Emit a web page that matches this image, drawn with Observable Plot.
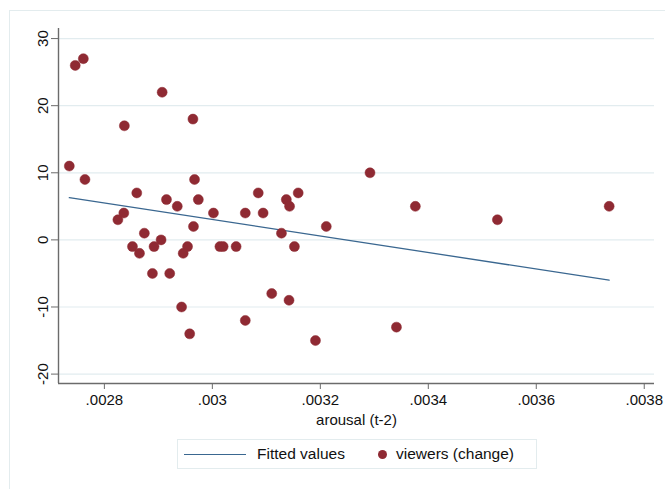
<!DOCTYPE html>
<html>
<head>
<meta charset="utf-8">
<script src="https://cdn.jsdelivr.net/npm/d3@7"></script>
<script src="https://cdn.jsdelivr.net/npm/@observablehq/plot@0.6"></script>
<style>
  body { margin: 0; background: #fff; font-family: "Liberation Sans", Arial, Helvetica, sans-serif; }
  #wrap { position: relative; width: 665px; height: 489px; overflow: hidden; }
  #frame { position: absolute; left: 9px; top: 10px; width: 700px; height: 500px; border: 1px solid #e3ecee; box-sizing: border-box; }
  #chart { position: absolute; left: 0; top: 0; }
  #legend { position: absolute; left: 177px; top: 439px; width: 360px; height: 30px; border: 1px solid #e3ecee; box-sizing: border-box; font-size: 15.5px; color: #111; }
  #legend .line { position: absolute; left: 6px; top: 14px; width: 62px; height: 0; border-top: 1.3px solid #3a6790; }
  #legend .t1 { position: absolute; left: 79px; top: 5px; }
  #legend .dot { position: absolute; left: 200px; top: 10px; width: 9px; height: 9px; border-radius: 50%; background: #8f2a33; }
  #legend .t2 { position: absolute; left: 218px; top: 5px; }
</style>
</head>
<body>
<div id="wrap">
  <div id="frame"></div>
  <div id="chart"></div>
  <div id="legend">
    <div class="line"></div><span class="t1">Fitted values</span>
    <div class="dot"></div><span class="t2">viewers (change)</span>
  </div>
</div>
<script>
// arousal (t-2)
const arousal = [
  0.002735, 0.002746, 0.002761, 0.002764, 0.002825, 0.002836, 0.002837, 0.002852,
  0.002860, 0.002865, 0.002874, 0.002889, 0.002892, 0.002905, 0.002907, 0.002915,
  0.002921, 0.002935, 0.002943, 0.002946, 0.002954, 0.002958, 0.002964, 0.002965,
  0.002967, 0.002974, 0.003002, 0.003014, 0.003020, 0.003044, 0.003061, 0.003061,
  0.003085, 0.003094, 0.003110, 0.003128, 0.003137, 0.003142, 0.003143, 0.003152,
  0.003159, 0.003191, 0.003211, 0.003292, 0.003341, 0.003376, 0.003528, 0.003735
];
// viewers (change)
const viewers = [
  11, 26, 27, 9, 3, 4, 17, -1,
  7, -2, 1, -5, -1, 0, 22, 6,
  -5, 5, -10, -2, -1, -14, 18, 2,
  9, 6, 4, -1, -1, -1, 4, -12,
  7, 4, -8, 1, 6, -9, 5, -1,
  7, -15, 2, 10, -13, 5, 3, 5
];
// Fitted values line endpoints
const fittedX = [0.002735, 0.003735];
const fittedY = [6.3, -6.0];

const xTicks = [0.0028, 0.003, 0.0032, 0.0034, 0.0036, 0.0038];
const xTickLabels = [".0028", ".003", ".0032", ".0034", ".0036", ".0038"];
const yTicks = [-20, -10, 0, 10, 20, 30];
const yTickLabels = ["-20", "-10", "0", "10", "20", "30"];

const xDomain = [0.002715, 0.003819];
const yDomain = [-21.4, 31.5];

const points = arousal.map((a, i) => ({x: a, y: viewers[i]}));
const fitted = fittedX.map((a, i) => ({x: a, y: fittedY[i]}));

const chart = Plot.plot({
  width: 665,
  height: 430,
  marginLeft: 58,
  marginRight: 11,
  marginTop: 28,
  marginBottom: 47,
  style: {fontFamily: "'Liberation Sans', Arial, Helvetica, sans-serif", fontSize: "15px", color: "#111", background: "transparent"},
  x: {domain: xDomain},
  y: {domain: yDomain},
  marks: [
    Plot.gridY(yTicks, {stroke: "#e2ecef", strokeOpacity: 1, strokeWidth: 1.2}),
    Plot.line(fitted, {x: "x", y: "y", stroke: "#3a6790", strokeWidth: 1.3}),
    Plot.dot(points, {x: "x", y: "y", r: 5, fill: "#8f2a33", stroke: "#8f2a33", strokeWidth: 0.5}),
    Plot.ruleX([xDomain[0]], {stroke: "#6b6b6b", strokeWidth: 1.4}),
    Plot.ruleY([yDomain[0]], {stroke: "#6b6b6b", strokeWidth: 1.4}),
    Plot.axisX(xTicks, {
      tickFormat: (d) => xTickLabels[xTicks.indexOf(d)],
      tickSize: 6, tickPadding: 5, stroke: "#6b6b6b",
      label: "arousal (t-2)", labelAnchor: "center", labelOffset: 41, labelArrow: "none"
    }),
    Plot.axisY(yTicks, {
      tickFormat: (d) => yTickLabels[yTicks.indexOf(d)],
      tickRotate: -90, tickSize: 7, tickPadding: 4, stroke: "#6b6b6b", label: null
    })
  ]
});
document.getElementById("chart").appendChild(chart);
</script>
</body>
</html>
